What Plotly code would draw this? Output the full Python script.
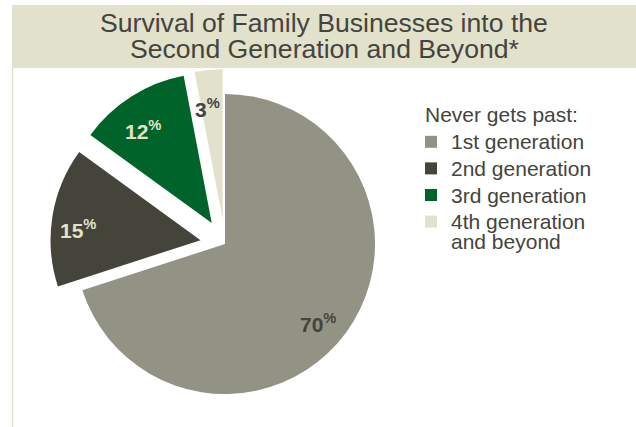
import math
import plotly.graph_objects as go

categories = ["1st generation", "2nd generation", "3rd generation", "4th generation<br>and beyond"]
values = [70, 15, 12, 3]
pulls = [0, 0.165, 0.165, 0.165]
colors = ["#939385", "#45443b", "#006329", "#e2e1cb"]
text_colors = ["#45443c", "#e2e1cb", "#e2e1cb", "#45443c"]
title_lines = ["Survival of Family Businesses into the", "Second Generation and Beyond*"]
legend_title = "Never gets past:"

W, H = 636, 427
FONT = "Liberation Sans, Arial"
TXT = "#45443c"

# pie geometry (pixels)
cx, cy, r = 225.0, 244.0, 150.0
half = r * (1 + max(pulls))
dom_x = [(cx - half) / W, (cx + half) / W]
dom_y = [1 - (cy + half) / H, 1 - (cy - half) / H]

def px(x):
    return x / W

def py(y):
    return 1 - y / H

fig = go.Figure()
fig.add_trace(go.Pie(
    labels=categories,
    values=values,
    sort=False,
    direction="clockwise",
    rotation=0,
    pull=pulls,
    marker=dict(colors=colors, line=dict(width=0)),
    textinfo="none",
    hoverinfo="label+value",
    showlegend=False,
    domain=dict(x=dom_x, y=dom_y),
))

annotations = []
# title
for i, line in enumerate(title_lines):
    annotations.append(dict(text=line, xref="paper", yref="paper",
                            x=(12 + 636) / 2 / W, y=py(23 + 26 * i),
                            xanchor="center", yanchor="middle", showarrow=False,
                            font=dict(family=FONT, size=26.6, color=TXT)))

# slice labels placed along each slice's mid-angle
total = sum(values)
start = 0.0
for v, p, tc in zip(values, pulls, text_colors):
    mid = math.radians((start + v / 2) / total * 360)
    start += v
    dx, dy = math.sin(mid), -math.cos(mid)
    d = (p + 0.8) * r
    annotations.append(dict(text=f"<b>{v}<sup>%</sup></b>", xref="paper", yref="paper",
                            x=px(cx + d * dx), y=py(cy + d * dy),
                            xanchor="center", yanchor="middle", showarrow=False,
                            xshift=-4, yshift=-8,
                            font=dict(family=FONT, size=21, color=tc)))

# legend (drawn by hand for tight spacing)
leg_x, leg_title_y, item_y0, item_step, line_step = 423.0, 114.2, 141.8, 26.6, 20.3
annotations.append(dict(text=legend_title, xref="paper", yref="paper",
                        x=px(leg_x), y=py(leg_title_y), xanchor="left", yanchor="middle",
                        showarrow=False, font=dict(family=FONT, size=21, color=TXT)))
shapes = [
    dict(type="rect", xref="paper", yref="paper", x0=12 / W, x1=1, y0=py(68), y1=py(5),
         fillcolor="#e2e1cc", line=dict(width=0), layer="below"),
    dict(type="line", xref="paper", yref="paper", x0=12.5 / W, x1=12.5 / W, y0=0, y1=py(68),
         line=dict(color="#e2e1cc", width=1.5), layer="below"),
]
for i, (cat, col) in enumerate(zip(categories, colors)):
    yy = item_y0 + i * item_step
    shapes.append(dict(type="rect", xref="paper", yref="paper",
                       x0=px(leg_x + 2), x1=px(leg_x + 14), y0=py(yy + 6), y1=py(yy - 6),
                       fillcolor=col, line=dict(width=0)))
    for j, part in enumerate(cat.split("<br>")):
        annotations.append(dict(text=part, xref="paper", yref="paper",
                                x=px(leg_x + 26), y=py(yy + j * line_step),
                                xanchor="left", yanchor="middle", showarrow=False,
                                font=dict(family=FONT, size=21, color=TXT)))

fig.update_layout(
    width=W, height=H,
    margin=dict(l=0, r=0, t=0, b=0),
    paper_bgcolor="white",
    plot_bgcolor="white",
    font=dict(family=FONT, color=TXT),
    showlegend=False,
    shapes=shapes,
    annotations=annotations,
)

fig.write_html("out.html")
